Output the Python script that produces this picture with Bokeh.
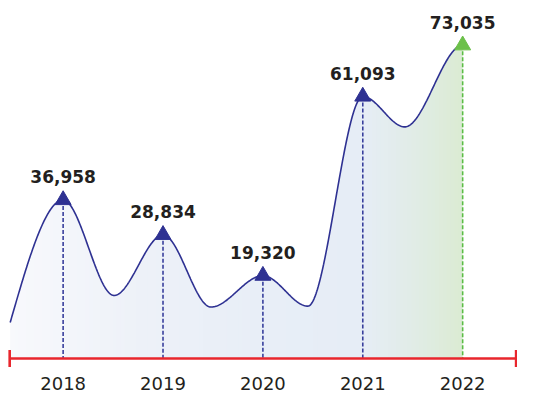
import numpy as np
from bokeh.plotting import figure
from bokeh.models import Range1d
from bokeh.core.properties import value
from bokeh.embed import file_html
from bokeh.resources import INLINE

# ---- data ----
years = ["2018", "2019", "2020", "2021", "2022"]
values = [36958, 28834, 19320, 61093, 73035]
# decorative troughs of the wave between the years (position between years, level)
trough_pos = [0.51, 1.48, 2.45, 3.42]
trough_vals = [14700, 12000, 12200, 54000]
start_pos = -0.53
start_val = 8400

labels = [f"{v:,}" for v in values]
x_idx = list(range(len(years)))
n = len(years)

NAVY = "#2e3192"
DASH_NAVY = "#383f9c"
GREEN = "#6cc04a"
DASH_GREEN = "#5bbd45"
RED = "#e8262d"
TXT = "#231f20"

# ---- smooth wave through the knots (zero slope at extremes) ----
kx, ky = [start_pos], [start_val]
for i in range(n):
    kx.append(i)
    ky.append(values[i])
    if i < len(trough_pos):
        kx.append(trough_pos[i])
        ky.append(trough_vals[i])

cx, cy = [], []
for j in range(len(kx) - 1):
    last = j == len(kx) - 2
    t = np.linspace(0, 1, 80, endpoint=last)
    x0, x1, y0, y1 = kx[j], kx[j + 1], ky[j], ky[j + 1]
    d = y1 - y0
    s = 3 * t**2 - 2 * t**3
    y = y0 + d * s
    if j == 0:
        y = y + 1.5 * d * (t**3 - 2 * t**2 + t)
    cx.extend(x0 + (x1 - x0) * t)
    cy.extend(y)
cx = np.array(cx)
cy = np.array(cy)

# ---- gradient fill under the wave (vertical strips) ----
stops_x = [start_pos, 0.8, 2.0, 3.0, 3.5, n - 1]
stops_c = ["#f8f9fc", "#edf1f8", "#e8eef7", "#e6edf6", "#e1ece7", "#dbebd3"]


def hex2rgb(h):
    return np.array([int(h[i:i + 2], 16) for i in (1, 3, 5)], dtype=float)


stops_rgb = np.array([hex2rgb(c) for c in stops_c])


def grad(x):
    r = np.interp(x, stops_x, stops_rgb[:, 0])
    g = np.interp(x, stops_x, stops_rgb[:, 1])
    b = np.interp(x, stops_x, stops_rgb[:, 2])
    return "#%02x%02x%02x" % (int(round(r)), int(round(g)), int(round(b)))


gx = np.linspace(start_pos, n - 1, 461)
gy = np.interp(gx, cx, cy)
step = 4
xs, ys, cols = [], [], []
for a in range(0, len(gx) - 1, step):
    b = min(a + step + 1, len(gx) - 1)
    px = list(gx[a:b + 1]) + [gx[b], gx[a]]
    py = list(gy[a:b + 1]) + [0, 0]
    xs.append(px)
    ys.append(py)
    cols.append(grad(0.5 * (gx[a] + gx[b])))

p = figure(width=517, height=396,
           x_range=Range1d(-0.627, 4.549),
           y_range=Range1d(-8860, 83470),
           x_axis_type=None, y_axis_type=None,
           output_backend="svg", toolbar_location=None, min_border=0)
p.grid.visible = False
p.outline_line_color = None
p.background_fill_color = "white"
p.border_fill_color = "white"

p.patches(xs=xs, ys=ys, fill_color=cols, line_color=None)

p.line(cx, cy, line_color=NAVY, line_width=1.6)

dash_cols = [DASH_NAVY] * (n - 1) + [DASH_GREEN]
mark_cols = [NAVY] * (n - 1) + [GREEN]
p.segment(x0=x_idx, y0=values, x1=x_idx, y1=[0] * n,
          line_color=dash_cols, line_width=1.6, line_dash="4 2")

pad = 0.535
p.segment(x0=[-pad], y0=[0], x1=[n - 1 + pad], y1=[0],
          line_color=RED, line_width=2.6)
p.scatter(x=[-pad, n - 1 + pad], y=[0, 0], marker="dash", angle=np.pi / 2,
          size=17, line_color=RED, line_width=2.6)

p.scatter(x=x_idx, y=values, marker="triangle", size=16,
          fill_color=mark_cols, line_color=mark_cols)

p.text(x=x_idx, y=values, text=labels, text_align="center",
       text_baseline="middle", y_offset=-23,
       text_font=value("DejaVu Sans"), text_font_style="bold",
       text_font_size="17px", text_color=TXT)

p.text(x=x_idx, y=[0] * n, text=years, text_align="center",
       text_baseline="middle", y_offset=25,
       text_font=value("DejaVu Sans"), text_font_size="18px",
       text_color=TXT)

open("out.html", "w").write(file_html(p, INLINE))
